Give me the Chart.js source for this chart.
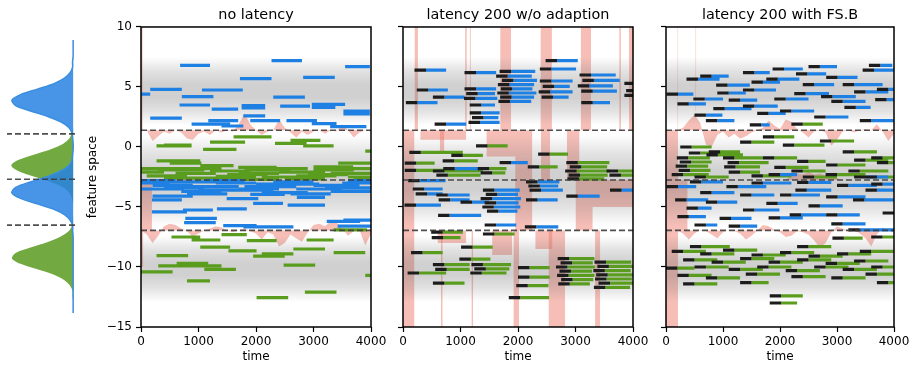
<!DOCTYPE html>
<html>
<head>
<meta charset="utf-8">
<title>feature space over time</title>
<script src="https://cdn.jsdelivr.net/npm/chart.js@4.4.1/dist/chart.umd.min.js"></script>
<style>
  html, body { margin: 0; padding: 0; background: #fff; }
  #fig { position: relative; width: 916px; height: 368px; overflow: hidden; }
  #fig canvas { position: absolute; top: 0; }
</style>
</head>
<body>
<div id="fig">
  <canvas id="density" width="80" height="368" style="left:0"></canvas>
  <canvas id="panel1" width="310" height="368" style="left:80px"></canvas>
  <canvas id="panel2" width="262" height="368" style="left:390px"></canvas>
  <canvas id="panel3" width="264" height="368" style="left:652px"></canvas>
</div>
<script>
Chart.defaults.font.family = "'DejaVu Sans', sans-serif";
Chart.defaults.font.size = 12;
Chart.defaults.color = '#000';

const timeTicks = [0, 1000, 2000, 3000, 4000];
const featureTicks = [10, 5, 0, -5, -10, -15];
const trueBounds = [1.4, -2.75, -6.95];
const latency = 200;

// class densities along the feature axis (left strip)
const densityY = [-15, -14.5, -14, -13.5, -13, -12.5, -12, -11.5, -11, -10.5, -10, -9.5, -9, -8.5, -8, -7.5, -7, -6.5, -6, -5.5, -5, -4.5, -4, -3.5, -3, -2.5, -2, -1.5, -1, -0.5, 0, 0.5, 1, 1.5, 2, 2.5, 3, 3.5, 4, 4.5, 5, 5.5, 6, 6.5, 7, 7.5, 8, 8.5, 9, 9.5, 10];
const densityBlue = [0, 0, 0, 0, 0, 0, 0, 0, 0, 0, 0, 0, 0, 0, 0, 0.01, 0.01, 0.05, 0.14, 0.31, 0.58, 0.85, 0.99, 0.93, 0.69, 0.41, 0.2, 0.07, 0.02, 0.01, 0, 0, 0.01, 0.02, 0.07, 0.2, 0.41, 0.69, 0.93, 0.99, 0.85, 0.58, 0.31, 0.14, 0.05, 0.01, 0.01, 0, 0, 0, 0];
const densityGreen = [0, 0, 0, 0.01, 0.01, 0.05, 0.14, 0.31, 0.58, 0.85, 0.99, 0.93, 0.69, 0.41, 0.2, 0.07, 0.02, 0.01, 0, 0, 0, 0.02, 0.06, 0.16, 0.36, 0.64, 0.89, 1, 0.89, 0.64, 0.36, 0.16, 0.06, 0.02, 0, 0, 0, 0, 0, 0, 0, 0, 0, 0, 0, 0, 0, 0, 0, 0, 0];

// gray sample cloud: [low, high, peak opacity]
const sampleBands = [[1.8, 7.5, 0.3], [-6.6, 1.0, 0.3], [-12.9, -7.4, 0.3]];

// estimated boundaries, sampled every 100 time steps
const estTimes = [0, 100, 200, 300, 400, 500, 600, 700, 800, 900, 1000, 1100, 1200, 1300, 1400, 1500, 1600, 1700, 1800, 1900, 2000, 2100, 2200, 2300, 2400, 2500, 2600, 2700, 2800, 2900, 3000, 3100, 3200, 3300, 3400, 3500, 3600, 3700, 3800, 3900, 4000];
const noLatUpper = [1.4, 1.4, 0.5, 0.9, 1.3, 1.1, 1.4, 1.2, 0.7, 0.6, 1.1, 1.3, 1.0, 1.4, 1.2, 1.4, 1.3, 1.9, 2.8, 1.9, 1.4, 1.0, 1.3, 1.4, 2.3, 1.6, 1.2, 0.8, 1.3, 1.0, 1.3, 1.4, 1.1, 1.4, 1.3, 1.9, 1.4, 0.8, 1.2, 1.4, 1.3];
const noLatLower = [-6.95, -7.3, -8.0, -7.4, -6.6, -6.4, -6.5, -6.8, -7.0, -7.5, -7.2, -6.95, -6.8, -6.6, -6.7, -6.95, -7.1, -6.95, -6.8, -7.0, -7.2, -7.7, -7.1, -7.3, -8.3, -8.0, -7.3, -7.6, -7.9, -7.1, -6.5, -6.4, -6.6, -6.2, -6.3, -6.8, -7.4, -7.0, -6.9, -8.2, -7.2];
const fsbUpper = [1.4, 1.4, 1.4, 1.6, 2.2, 2.7, 2.0, 0.2, 0.0, 1.0, 1.3, 0.8, 1.1, 0.7, 0.9, 1.2, 1.4, 1.6, 2.2, 1.8, 1.5, 2.3, 2.1, 1.5, 1.2, 0.8, 1.3, 1.4, 1.2, 0.1, 0.6, 1.3, 1.4, 1.2, 1.4, 1.5, 1.4, 1.9, 1.3, 0.5, 1.1];
const fsbMiddle = [-2.75, -2.75, -2.75, -2.75, -2.75, -2.75, -2.75, -2.75, -2.75, -2.75, -2.75, -2.75, -2.75, -2.75, -2.75, -2.75, -2.75, -2.75, -2.75, -2.75, -2.75, -2.75, -2.4, -2.2, -2.3, -2.1, -2.3, -2.2, -2.4, -2.3, -2.6, -2.75, -2.75, -2.75, -2.75, -2.75, -2.75, -2.75, -2.75, -2.75, -2.75];
const fsbLower = [-6.95, -6.95, -6.95, -7.2, -7.7, -7.2, -6.9, -7.0, -7.3, -7.6, -7.1, -6.9, -7.0, -7.2, -7.7, -7.4, -6.95, -6.5, -6.6, -6.9, -7.1, -7.5, -7.4, -7.0, -7.1, -7.3, -7.8, -8.4, -8.0, -7.1, -6.6, -6.8, -7.0, -6.9, -7.2, -7.6, -8.3, -7.3, -6.7, -7.0, -7.1];

// misclassified regions: [t0, t1, low, high]
const noLatRects = [[0, 190, -6.95, -2.75], [0, 30, 1.4, 10], [0, 40, -10, -6.95]];
const lat200Rects = [
  [0, 200, -15, 1.4], [200, 260, 1.4, 10], [300, 1100, 0.6, 1.4], [640, 720, -0.5, 1.4],
  [660, 690, -15, -6.95], [600, 1100, -8.0, -6.95], [1080, 1110, 1.4, 10], [1160, 1180, 1.4, 10],
  [1190, 1220, -15, -6.95], [1690, 1880, 1.4, 10], [1450, 2250, -0.8, 1.4], [1950, 2250, -6.95, -0.8],
  [1550, 1900, -9.0, -6.95], [1920, 2020, -15, -6.95], [2390, 2590, 1.4, 10], [2400, 2560, -2.75, 1.4],
  [2300, 2600, -8.5, -6.95], [2530, 2820, -15, -6.95], [2850, 3070, -2.75, 1.4], [3090, 3270, 1.4, 10],
  [3000, 4000, -5.0, -2.75], [3000, 3300, -6.95, -5.0], [3340, 3430, -15, -6.95], [3760, 3790, 1.4, 10],
  [3930, 4000, 1.4, 10]
];
const fsbRects = [[0, 210, -15, 1.4], [210, 380, -6.95, -2.75], [200, 215, 1.4, 10], [515, 530, 3.0, 10]];

// detected clusters: [t0, t1, feature]
const noLatBlue = [
  [680, 1200, 6.8], [2270, 2800, 7.2], [3550, 3980, 6.7], [1720, 2270, 5.7], [2820, 3370, 5.8],
  [160, 710, 4.8], [0, 160, 4.4], [1060, 1770, 4.75], [710, 1260, 4.2], [2300, 2850, 4.15],
  [670, 1200, 3.5], [1230, 1690, 3.15], [1750, 2160, 3.45], [1750, 2160, 3.25], [2420, 2940, 3.4],
  [2970, 3550, 3.55], [2970, 3380, 3.3], [3520, 3980, 3.0], [3520, 3980, 2.75], [160, 710, 2.4],
  [1170, 1690, 2.2], [1780, 2160, 2.6], [1900, 2420, 2.2], [2530, 3060, 2.2], [2970, 3400, 1.95],
  [880, 1550, 1.9], [1400, 1780, 1.75], [3290, 3920, 1.7],
  [0, 500, -3.0], [0, 750, -3.5], [200, 900, -3.2], [500, 1300, -2.9], [700, 1400, -3.7],
  [900, 1700, -3.3], [1300, 2000, -3.0], [1500, 2300, -3.6], [1800, 2700, -3.3], [2100, 2900, -3.8],
  [2400, 3100, -3.1], [2700, 3500, -3.5], [3000, 3800, -3.2], [3300, 4000, -3.7], [3500, 4000, -3.0],
  [0, 600, -2.8], [400, 1100, -3.4], [800, 1500, -3.9], [1100, 1800, -2.8], [1700, 2400, -3.5],
  [2300, 3000, -2.9], [2600, 3300, -3.9], [3200, 4000, -3.4], [3600, 4000, -2.8], [1000, 1700, -3.6],
  [2000, 2600, -3.1],
  [1900, 2500, -3.95], [200, 900, -4.1], [190, 710, -4.4], [190, 800, -5.4], [730, 1250, -5.25],
  [1320, 1840, -5.15], [1950, 2470, -4.7], [1490, 2040, -4.3], [2710, 3200, -4.2], [2550, 3200, -4.85],
  [3230, 3810, -6.2], [770, 1320, -5.95], [750, 1300, -6.3], [1430, 2010, -6.55], [1780, 2650, -6.65],
  [3420, 4000, -6.6], [3520, 4000, -6.1]
];
const noLatGreen = [
  [1610, 2270, 0.85], [270, 880, 0.1], [1200, 1810, 0.4], [2330, 2880, 0.3], [2820, 3350, 0.1],
  [400, 880, 0.15], [1080, 1660, -0.2], [2600, 3120, 0.55], [3900, 4000, -0.35], [270, 1030, -1.15],
  [500, 1050, -1.35], [1030, 1610, -1.55], [1690, 2360, -1.7], [3430, 4000, -1.35], [3000, 3690, -1.65],
  [0, 400, -2.1], [100, 800, -2.4], [300, 1100, -1.9], [600, 1300, -2.2], [900, 1600, -2.6],
  [1200, 1900, -2.0], [1500, 2200, -2.3], [1800, 2600, -1.9], [2100, 2800, -2.5], [2400, 3200, -2.1],
  [2700, 3400, -2.4], [3000, 3700, -1.9], [3300, 4000, -2.2], [3600, 4000, -2.5], [1600, 2400, -2.7],
  [0, 700, -1.8], [400, 1100, -2.6], [700, 1400, -1.8], [1300, 2000, -2.45], [1700, 2400, -2.2],
  [2200, 2900, -1.8], [2500, 3200, -2.65], [2900, 3600, -2.3], [3400, 4000, -1.8], [3700, 4000, -2.65],
  [530, 1030, -7.5], [880, 1380, -7.75], [1400, 1840, -7.3], [1840, 2360, -7.8], [2880, 3350, -7.75],
  [3350, 3930, -6.9], [1030, 1550, -8.35], [1520, 2010, -8.65], [1950, 2500, -9.1], [2100, 2650, -8.9],
  [2650, 3200, -8.5], [3350, 3900, -8.8], [270, 820, -9.05], [300, 850, -9.9], [620, 1170, -9.7],
  [850, 1400, -9.9], [1100, 1650, -10.2], [0, 550, -10.4], [2480, 3030, -9.85], [3900, 4000, -10.7],
  [800, 1200, -11.15], [2850, 3400, -12.1], [2010, 2560, -12.55]
];
const lat200Blue = [
  [200, 750, 6.4], [1070, 1620, 6.2], [2480, 3040, 7.2], [2380, 3010, 6.5], [240, 780, 4.75],
  [520, 1070, 4.15], [50, 600, 3.7], [1070, 1620, 4.85], [1100, 1600, 4.45], [1060, 1640, 4.05],
  [1160, 1600, 3.5], [1160, 1680, 2.85], [1200, 1660, 2.45], [1140, 1680, 2.05], [550, 1100, 1.9],
  [1680, 2300, 6.3], [1620, 2240, 5.9], [1720, 2330, 5.55], [1650, 2280, 5.2], [1700, 2250, 4.85],
  [1640, 2320, 4.5], [1690, 2280, 4.15], [1660, 2230, 3.8], [2380, 2950, 5.5], [2430, 2900, 5.05],
  [2360, 2950, 4.6], [2410, 2880, 4.15], [3070, 3700, 6.0], [3120, 3770, 5.55], [3040, 3650, 5.1],
  [3100, 3720, 4.65], [3100, 3600, 3.7], [3850, 4000, 5.3], [3880, 4000, 4.7], [3850, 4000, 4.3],
  [1680, 2170, -1.3], [700, 1390, -1.8], [2140, 2720, -2.9], [2180, 2700, -3.25], [90, 740, -2.8],
  [170, 690, -3.5], [220, 690, -3.9], [26, 660, -4.85], [580, 1160, -4.0], [620, 1160, -4.4],
  [1000, 1500, -4.6], [1390, 2030, -3.6], [1440, 2000, -3.95], [1350, 2050, -4.3], [1420, 2010, -4.65],
  [1380, 2040, -5.0], [1460, 1990, -5.35], [2140, 2690, -4.4], [2200, 2780, -3.6], [2840, 3420, -4.1],
  [3600, 4000, -3.6], [610, 1360, -5.7], [1420, 1970, -6.5], [2120, 2700, -6.65]
];
const lat200Green = [
  [1270, 1820, 0.1], [110, 1040, -0.45], [840, 1390, -0.7], [2350, 2870, -0.6], [30, 550, -1.35],
  [690, 1300, -1.15], [2170, 2690, -1.65], [1300, 1800, -1.8], [1350, 1780, -2.15], [30, 800, -1.95],
  [520, 1390, -2.0], [580, 1350, -2.35], [2840, 3590, -1.3], [2900, 3550, -1.65], [2820, 3600, -2.0],
  [2880, 3560, -2.35], [2860, 3500, -2.65], [3540, 4000, -2.0], [3590, 4000, -2.35],
  [490, 1040, -7.1], [500, 1000, -7.55], [1390, 1940, -7.25], [1010, 1560, -8.35], [140, 690, -8.8],
  [980, 1520, -9.35], [520, 1160, -9.8], [80, 750, -10.5], [560, 1160, -10.2], [1190, 1880, -9.8],
  [1240, 1850, -10.15], [1170, 1800, -10.5], [520, 1070, -11.35], [2000, 2550, -10.05], [2000, 2550, -10.85],
  [1970, 2530, -11.55], [1840, 2540, -12.55], [2690, 3330, -9.3], [2740, 3300, -9.65], [2660, 3340, -10.0],
  [2720, 3290, -10.35], [2680, 3330, -10.7], [2750, 3310, -11.05], [2700, 3250, -11.4], [3330, 3970, -9.6],
  [3380, 4000, -9.95], [3310, 3960, -10.3], [3360, 4000, -10.65], [3340, 3980, -11.0], [3400, 4000, -11.35],
  [3320, 3950, -11.7]
];
const fsbBlue = [
  [3560, 3970, 6.8], [1870, 2400, 6.5], [3450, 4000, 6.4], [1350, 1820, 6.2], [2280, 2810, 6.1],
  [360, 940, 5.65], [1760, 2340, 5.65], [2810, 3360, 5.8], [3100, 3800, 5.2], [880, 1470, 5.15],
  [10, 480, 4.4], [1350, 1930, 4.75], [480, 1000, 4.0], [1100, 1600, 3.9], [2250, 2860, 4.45],
  [2720, 3330, 4.2], [3130, 3590, 3.3], [3670, 4000, 3.95], [830, 1500, 3.2], [1350, 1960, 3.4],
  [2600, 3200, 2.5], [500, 990, 2.65], [1470, 1820, 1.85], [3700, 4000, 4.8], [2000, 2600, 3.0],
  [600, 1100, 5.9], [1500, 2000, 5.4], [2400, 2950, 5.2], [3300, 3900, 4.6], [1900, 2500, 4.0],
  [200, 700, 3.6], [2900, 3500, 3.8], [1600, 2100, 2.8], [3400, 4000, 2.2], [900, 1400, 4.5],
  [2500, 3000, 6.7], [700, 1200, 2.2],
  [420, 1000, -2.9], [1060, 1760, -3.3], [10, 530, -3.3], [160, 740, -4.4], [700, 1250, -4.6],
  [1760, 2310, -4.7], [2270, 2900, -3.6], [2810, 3500, -4.15], [3280, 4000, -4.4], [360, 800, -5.1],
  [1350, 1990, -5.25], [2170, 2810, -5.65], [2810, 3400, -5.65], [940, 1500, -5.95], [500, 900, -6.5],
  [3200, 4000, -6.9], [3800, 4000, -5.5], [1500, 2200, -3.0], [2000, 2700, -4.0], [3000, 3700, -3.2],
  [1800, 2300, -2.3], [3300, 3900, -2.5], [600, 1200, -3.8], [1300, 1900, -4.0], [2500, 3100, -4.9],
  [3500, 4000, -3.6], [1800, 2400, -5.9], [200, 700, -5.8], [1100, 1600, -6.6], [2900, 3500, -6.4],
  [2300, 2900, -2.95], [3600, 4000, -3.1]
];
const fsbGreen = [
  [1700, 2250, 0.85], [250, 800, 0.0], [2050, 2780, 0.15], [750, 1300, -0.4], [190, 770, -0.9],
  [240, 800, -1.25], [170, 740, -1.6], [220, 780, -1.95], [710, 1350, -0.65],
  [1000, 1700, -0.9], [1080, 1800, -1.3], [1020, 1650, -1.65], [1700, 2300, -0.9], [2300, 2800, -1.2],
  [2810, 3500, -1.5], [3600, 4000, -0.9], [3700, 4000, -1.3], [100, 750, -2.3], [1100, 1650, -2.1],
  [1500, 2200, -2.4], [2400, 3000, -2.5], [3200, 3900, -2.0], [2800, 3500, -2.3], [2200, 2750, 1.9],
  [1300, 1900, 0.4], [2700, 3300, 0.5], [3100, 3700, -0.4], [400, 1000, -0.5], [1900, 2500, -1.7],
  [3300, 3900, -1.1], [500, 1100, -2.5], [2200, 2800, -2.0], [3500, 4000, -2.5],
  [2920, 3450, -7.6], [420, 1120, -8.3], [2300, 2900, -8.3], [3600, 4000, -7.5], [100, 700, -8.7],
  [600, 1200, -8.9], [1000, 1600, -8.6], [1500, 2100, -9.0], [2000, 2600, -8.8], [2500, 3100, -9.1],
  [3000, 3600, -8.9], [3400, 4000, -8.7], [300, 900, -9.4], [800, 1400, -9.6], [1300, 1900, -9.3],
  [1800, 2400, -9.6], [2300, 2900, -9.4], [2800, 3400, -9.7], [3300, 3900, -9.5], [0, 500, -10.1],
  [500, 1100, -10.0], [1100, 1700, -10.2], [1600, 2200, -10.0], [2100, 2700, -10.3], [2600, 3200, -10.0],
  [3100, 3700, -10.2], [3600, 4000, -10.0], [200, 800, -10.7], [700, 1300, -10.9], [1400, 2000, -10.6],
  [2200, 2800, -10.8], [2900, 3500, -10.9], [3500, 4000, -10.6], [300, 900, -11.4], [1300, 1800, -11.3],
  [3700, 4000, -11.3], [1820, 2400, -12.4], [1820, 2300, -13.0]
];

const BLUE = '#1f80e4';
const GREEN = '#5a9d1e';
const BLACK = '#1c1c1c';
const SALMON = 'rgba(238,125,112,0.5)';
const DASH = 'rgba(60,60,60,0.9)';
const tStart = timeTicks[0];
const tEnd = timeTicks[timeTicks.length - 1];

const fmt = v => (v < 0 ? '\u2212' + Math.abs(v) : String(v));

// split each cluster into its delayed (black) part and its labelled part
function segLine(segs, part, lag) {
  const pts = [];
  segs.forEach(([t0, t1, y]) => {
    const mid = Math.min(t0 + lag, t1);
    const a = part === 'lag' ? t0 : mid;
    const b = part === 'lag' ? mid : t1;
    if (b <= a) return;
    pts.push({x: a, y: y}, {x: b, y: y}, {x: b, y: null});
  });
  return pts;
}

function grayGrad(chart, lo, hi, a) {
  const {ctx, chartArea, scales} = chart;
  if (!chartArea) return 'rgba(0,0,0,0)';
  const g = ctx.createLinearGradient(0, scales.y.getPixelForValue(hi), 0, scales.y.getPixelForValue(lo));
  g.addColorStop(0, 'rgba(100,100,100,0)');
  g.addColorStop(0.2, `rgba(100,100,100,${a * 0.6})`);
  g.addColorStop(0.4, `rgba(100,100,100,${a})`);
  g.addColorStop(0.6, `rgba(100,100,100,${a})`);
  g.addColorStop(0.8, `rgba(100,100,100,${a * 0.6})`);
  g.addColorStop(1, 'rgba(100,100,100,0)');
  return g;
}

const area = (data, lo, color, order) => ({
  data, fill: {value: lo}, backgroundColor: color, borderWidth: 0, pointRadius: 0, order
});
const seg = (data, color, order) => ({
  data, borderColor: color, borderWidth: 3.2, borderCapStyle: 'butt', pointRadius: 0,
  fill: false, spanGaps: false, tension: 0, order
});

const frame = {
  id: 'frame',
  afterDraw(chart) {
    const {ctx, chartArea: a} = chart;
    ctx.save();
    ctx.strokeStyle = '#000';
    ctx.lineWidth = 1.5;
    ctx.strokeRect(a.left, a.top, a.right - a.left, a.bottom - a.top);
    ctx.restore();
  }
};

const tickGrid = {drawOnChartArea: false, drawTicks: true, tickLength: 5, tickColor: '#000', tickWidth: 1.2};

function makePanel(id, cfg) {
  const datasets = [];
  cfg.rects.forEach(([t0, t1, lo, hi]) => datasets.push(area([{x: t0, y: hi}, {x: t1, y: hi}], lo, SALMON, 10)));
  cfg.estimates.forEach(([vals, base]) => datasets.push(area(estTimes.map((t, i) => ({x: t, y: vals[i]})), base, SALMON, 10)));
  sampleBands.forEach(([lo, hi, a]) => datasets.push(area([{x: tStart, y: hi}, {x: tEnd, y: hi}], lo, c => grayGrad(c.chart, lo, hi, a), 9)));
  datasets.push(seg(segLine(cfg.green, 'color', cfg.lag), GREEN, 4));
  datasets.push(seg(segLine(cfg.blue, 'color', cfg.lag), BLUE, 3));
  if (cfg.lag) datasets.push(seg(segLine(cfg.green.concat(cfg.blue), 'lag', cfg.lag), BLACK, 2));
  trueBounds.forEach(b => datasets.push({
    data: [{x: tStart, y: b}, {x: tEnd, y: b}], borderColor: DASH, borderWidth: 1.6,
    borderDash: [6, 3], pointRadius: 0, fill: false, order: 1
  }));

  return new Chart(document.getElementById(id), {
    type: 'line',
    data: {datasets},
    options: {
      responsive: false,
      animation: false,
      devicePixelRatio: 1,
      events: [],
      layout: {padding: {left: 0, right: cfg.padRight, top: 0, bottom: 0}},
      plugins: {
        legend: {display: false},
        tooltip: {enabled: false},
        title: {
          display: true, text: cfg.title, fullSize: false, color: '#000',
          font: {size: 14.4, weight: 'normal'}, padding: {top: 6.5, bottom: 3.2}
        }
      },
      scales: {
        x: {
          type: 'linear', min: tStart, max: tEnd,
          afterBuildTicks: s => { s.ticks = timeTicks.map(v => ({value: v})); },
          ticks: {padding: 3, maxRotation: 0, autoSkip: false, callback: v => String(v)},
          grid: tickGrid,
          border: {display: false},
          title: {display: true, text: 'time', padding: {top: 0, bottom: 4}},
          afterFit: s => { s.height = 41; }
        },
        y: {
          type: 'linear', min: -15, max: 10,
          afterBuildTicks: s => { s.ticks = featureTicks.map(v => ({value: v})); },
          ticks: {padding: 4, autoSkip: false, callback: v => (cfg.yLabels ? fmt(v) : '')},
          grid: tickGrid,
          border: {display: false},
          title: {display: cfg.yLabels, text: 'feature space', padding: {top: 6, bottom: 0}},
          afterFit: s => { s.width = cfg.axisWidth; }
        }
      }
    },
    plugins: [frame]
  });
}

// left strip: class densities, drawn sideways
new Chart(document.getElementById('density'), {
  type: 'line',
  data: {
    datasets: [
      {
        data: densityY.map((y, i) => ({x: densityGreen[i], y: y})),
        fill: {value: 0}, backgroundColor: 'rgba(106,165,55,0.95)', borderWidth: 0,
        pointRadius: 0, tension: 0.3, order: 3
      },
      {
        data: densityY.map((y, i) => ({x: densityBlue[i], y: y})),
        fill: {value: 0}, backgroundColor: 'rgba(40,130,228,0.85)', borderColor: '#3a8ee0',
        borderWidth: 1.5, pointRadius: 0, tension: 0.3, order: 2
      }
    ].concat(trueBounds.map(b => ({
      data: [{x: -0.03, y: b}, {x: 1.07, y: b}], borderColor: DASH, borderWidth: 1.6,
      borderDash: [6, 3], pointRadius: 0, fill: false, order: 1
    })))
  },
  options: {
    indexAxis: 'y',
    responsive: false,
    animation: false,
    devicePixelRatio: 1,
    events: [],
    layout: {padding: {left: 7, right: 5, top: 40, bottom: 55}},
    plugins: {legend: {display: false}, tooltip: {enabled: false}},
    scales: {
      x: {type: 'linear', min: -0.03, max: 1.07, reverse: true, display: false},
      y: {type: 'linear', min: -15, max: 10, display: false}
    }
  }
});

makePanel('panel1', {
  title: 'no latency', blue: noLatBlue, green: noLatGreen, lag: 0,
  rects: noLatRects, estimates: [[noLatUpper, trueBounds[0]], [noLatLower, trueBounds[2]]],
  yLabels: true, axisWidth: 61, padRight: 19
});
makePanel('panel2', {
  title: 'latency 200 w/o adaption', blue: lat200Blue, green: lat200Green, lag: latency,
  rects: lat200Rects, estimates: [],
  yLabels: false, axisWidth: 13, padRight: 19
});
makePanel('panel3', {
  title: 'latency 200 with FS.B', blue: fsbBlue, green: fsbGreen, lag: latency,
  rects: fsbRects, estimates: [[fsbUpper, trueBounds[0]], [fsbMiddle, trueBounds[1]], [fsbLower, trueBounds[2]]],
  yLabels: false, axisWidth: 14, padRight: 22
});
</script>
</body>
</html>
